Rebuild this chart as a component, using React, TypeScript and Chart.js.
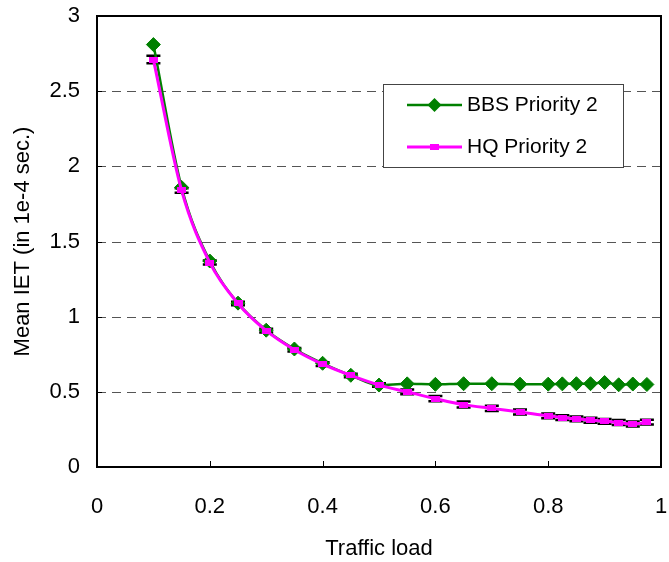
import React, { useEffect, useRef } from "react";
import { Chart, registerables } from "chart.js";

Chart.register(...registerables);

// ---- data ----
const trafficLoad = [
  0.1, 0.15, 0.2, 0.25, 0.3, 0.35, 0.4, 0.45, 0.5, 0.55, 0.6, 0.65, 0.7, 0.75,
  0.8, 0.825, 0.85, 0.875, 0.9, 0.925, 0.95, 0.975,
];
const bbsPriority2 = [
  2.81, 1.86, 1.37, 1.09, 0.91, 0.785, 0.69, 0.61, 0.545, 0.553, 0.55, 0.554,
  0.554, 0.551, 0.551, 0.553, 0.554, 0.554, 0.562, 0.547, 0.552, 0.549,
];
const hqPriority2 = [
  2.71, 1.84, 1.36, 1.088, 0.907, 0.78, 0.684, 0.609, 0.545, 0.5, 0.455, 0.415,
  0.39, 0.366, 0.34, 0.329, 0.32, 0.311, 0.304, 0.296, 0.286, 0.298,
];
const hqError = [
  0.025, 0.015, 0.013, 0.012, 0.012, 0.012, 0.012, 0.012, 0.012, 0.016, 0.018,
  0.02, 0.018, 0.017, 0.016, 0.016, 0.016, 0.016, 0.016, 0.016, 0.016, 0.016,
];
const seriesNames = ["BBS Priority 2", "HQ Priority 2"];
const xAxisTitle = "Traffic load";
const yAxisTitle = "Mean IET (in 1e-4 sec.)";
const xTickValues = [0, 0.2, 0.4, 0.6, 0.8, 1];
const yTickValues = [0, 0.5, 1, 1.5, 2, 2.5, 3];

const GREEN = "#008000";
const PINK = "#FF00FF";
const FONT = "'Liberation Sans', Arial, sans-serif";

function makePinkMarker(): HTMLCanvasElement {
  const c = document.createElement("canvas");
  c.width = 9;
  c.height = 6;
  const g = c.getContext("2d")!;
  g.fillStyle = PINK;
  g.fillRect(0, 0, 9, 6);
  return c;
}

function plotBox(chart: any) {
  const xs = chart.scales.x;
  const ys = chart.scales.y;
  return {
    left: xs.getPixelForValue(xTickValues[0]),
    right: xs.getPixelForValue(xTickValues[xTickValues.length - 1]),
    top: ys.getPixelForValue(yTickValues[yTickValues.length - 1]),
    bottom: ys.getPixelForValue(yTickValues[0]),
  };
}

const decorPlugin = {
  id: "decor",
  beforeDatasetsDraw(chart: any) {
    const { ctx, scales } = chart;
    const xs = scales.x;
    const ys = scales.y;
    const area = plotBox(chart);
    ctx.save();
    ctx.strokeStyle = "#555555";
    ctx.lineWidth = 1;
    ctx.setLineDash([9, 6]);
    yTickValues.forEach((v, k) => {
      if (k === 0 || k === yTickValues.length - 1) return;
      const py = Math.round(ys.getPixelForValue(v)) + 0.5;
      ctx.beginPath();
      ctx.moveTo(area.left, py);
      ctx.lineTo(area.right, py);
      ctx.stroke();
    });
    ctx.setLineDash([]);
    ctx.strokeStyle = "#000";
    ctx.lineWidth = 1;
    yTickValues.forEach((v, k) => {
      if (k === 0 || k === yTickValues.length - 1) return;
      const py = Math.round(ys.getPixelForValue(v)) + 0.5;
      ctx.beginPath();
      ctx.moveTo(area.left, py);
      ctx.lineTo(area.left + 5, py);
      ctx.stroke();
    });
    xTickValues.forEach((v, k) => {
      if (k === 0 || k === xTickValues.length - 1) return;
      const px = Math.round(xs.getPixelForValue(v)) + 0.5;
      ctx.beginPath();
      ctx.moveTo(px, area.bottom);
      ctx.lineTo(px, area.bottom - 6);
      ctx.stroke();
    });
    trafficLoad.forEach((x, i) => {
      const px = xs.getPixelForValue(x);
      const yTop = ys.getPixelForValue(hqPriority2[i] + hqError[i]);
      const yBot = ys.getPixelForValue(hqPriority2[i] - hqError[i]);
      ctx.lineWidth = 1;
      ctx.beginPath();
      ctx.moveTo(px, yTop);
      ctx.lineTo(px, yBot);
      ctx.stroke();
      ctx.lineWidth = 2.5;
      ctx.beginPath();
      ctx.moveTo(px - 7, yTop);
      ctx.lineTo(px + 7, yTop);
      ctx.moveTo(px - 7, yBot);
      ctx.lineTo(px + 7, yBot);
      ctx.stroke();
    });
    ctx.restore();
  },
  afterDraw(chart: any) {
    const { ctx } = chart;
    const area = plotBox(chart);
    const L = Math.round(area.left);
    const R = Math.round(area.right);
    const T = Math.round(area.top);
    const B = Math.round(area.bottom);
    ctx.save();
    // plot frame as filled bars
    ctx.fillStyle = "#000000";
    ctx.fillRect(L - 1, T - 1, R - L + 2, 2);
    ctx.fillRect(L - 1, B - 1, R - L + 2, 2);
    ctx.fillRect(L - 1, T - 1, 2, B - T + 2);
    ctx.fillRect(R - 1, T - 1, 2, B - T + 2);
    // legend
    const bx = area.left + 286;
    const by = area.top + 68;
    const bw = 240;
    const bh = 83;
    ctx.fillStyle = "#fff";
    ctx.fillRect(bx, by, bw, bh);
    ctx.strokeStyle = "#444";
    ctx.lineWidth = 1;
    ctx.strokeRect(bx + 0.5, by + 0.5, bw, bh);
    const rows = [by + 21, by + 63];
    const lx0 = bx + 24;
    const lx1 = bx + 79;
    const mx = (lx0 + lx1) / 2;
    ctx.strokeStyle = GREEN;
    ctx.lineWidth = 2.5;
    ctx.beginPath();
    ctx.moveTo(lx0, rows[0]);
    ctx.lineTo(lx1, rows[0]);
    ctx.stroke();
    ctx.fillStyle = GREEN;
    ctx.beginPath();
    ctx.moveTo(mx, rows[0] - 7);
    ctx.lineTo(mx + 7, rows[0]);
    ctx.lineTo(mx, rows[0] + 7);
    ctx.lineTo(mx - 7, rows[0]);
    ctx.closePath();
    ctx.fill();
    ctx.strokeStyle = PINK;
    ctx.lineWidth = 3;
    ctx.beginPath();
    ctx.moveTo(lx0, rows[1]);
    ctx.lineTo(lx1, rows[1]);
    ctx.stroke();
    ctx.fillStyle = PINK;
    ctx.fillRect(mx - 4.5, rows[1] - 3, 9, 6);
    ctx.fillStyle = "#000";
    ctx.font = `21px ${FONT}`;
    ctx.textBaseline = "middle";
    ctx.textAlign = "left";
    ctx.fillText(seriesNames[0], lx1 + 5, rows[0]);
    ctx.fillText(seriesNames[1], lx1 + 5, rows[1]);
    ctx.restore();
  },
};

export default function App() {
  const ref = useRef<HTMLCanvasElement | null>(null);
  useEffect(() => {
    document.body.style.margin = "0";
    const canvas = ref.current!;
    const pinkMarker = makePinkMarker();
    const chart = new Chart(canvas, {
      type: "line",
      data: {
        datasets: [
          {
            label: seriesNames[0],
            data: trafficLoad.map((x, i) => ({ x, y: bbsPriority2[i] })),
            borderColor: GREEN,
            backgroundColor: GREEN,
            borderWidth: 2.5,
            pointStyle: "rectRot",
            pointRadius: 7,
            pointBorderWidth: 1,
            pointBackgroundColor: GREEN,
            pointBorderColor: GREEN,
            cubicInterpolationMode: "monotone",
            order: 1,
          },
          {
            label: seriesNames[1],
            data: trafficLoad.map((x, i) => ({ x, y: hqPriority2[i] })),
            borderColor: PINK,
            backgroundColor: PINK,
            borderWidth: 3,
            pointStyle: pinkMarker as any,
            pointRadius: 5,
            cubicInterpolationMode: "monotone",
            order: 0,
          },
        ],
      },
      options: {
        animation: false,
        responsive: false,
        devicePixelRatio: 1,
        events: [],
        layout: { padding: { top: 16, right: 4, left: 0, bottom: 0 } },
        plugins: {
          legend: { display: false },
          tooltip: { enabled: false },
        },
        scales: {
          x: {
            type: "linear",
            min: 0,
            max: 1,
            afterBuildTicks: (s: any) => {
              s.ticks = xTickValues.map((v) => ({ value: v }));
            },
            afterFit: (s: any) => {
              s.height = 95;
              s.paddingLeft = 0;
              s.paddingRight = 0;
            },
            grid: { display: false, drawTicks: false },
            border: { display: false },
            ticks: {
              padding: 27,
              color: "#000",
              font: { family: FONT, size: 22 },
              maxRotation: 0,
              callback: (v: any) => String(Number(Number(v).toFixed(1))),
            },
            title: {
              display: true,
              text: xAxisTitle,
              color: "#000",
              font: { family: FONT, size: 22, lineHeight: 1 },
              padding: { top: 0, bottom: 2 },
            },
          },
          y: {
            type: "linear",
            min: 0,
            max: 3,
            afterBuildTicks: (s: any) => {
              s.ticks = yTickValues.map((v) => ({ value: v }));
            },
            afterFit: (s: any) => {
              s.width = 97;
              s.paddingTop = 0;
              s.paddingBottom = 0;
            },
            grid: { display: false, drawTicks: false },
            border: { display: false },
            ticks: {
              padding: 17,
              color: "#000",
              font: { family: FONT, size: 22 },
              callback: (v: any) => String(Number(Number(v).toFixed(1))),
            },
            title: {
              display: true,
              text: yAxisTitle,
              color: "#000",
              font: { family: FONT, size: 22, lineHeight: 1.2 },
              padding: { top: 10, bottom: 0 },
            },
          },
        },
      },
      plugins: [decorPlugin],
    });
    return () => chart.destroy();
  }, []);
  return (
    <div style={{ width: 669, height: 562 }}>
      <canvas ref={ref} width={669} height={562} style={{ display: "block" }} />
    </div>
  );
}
